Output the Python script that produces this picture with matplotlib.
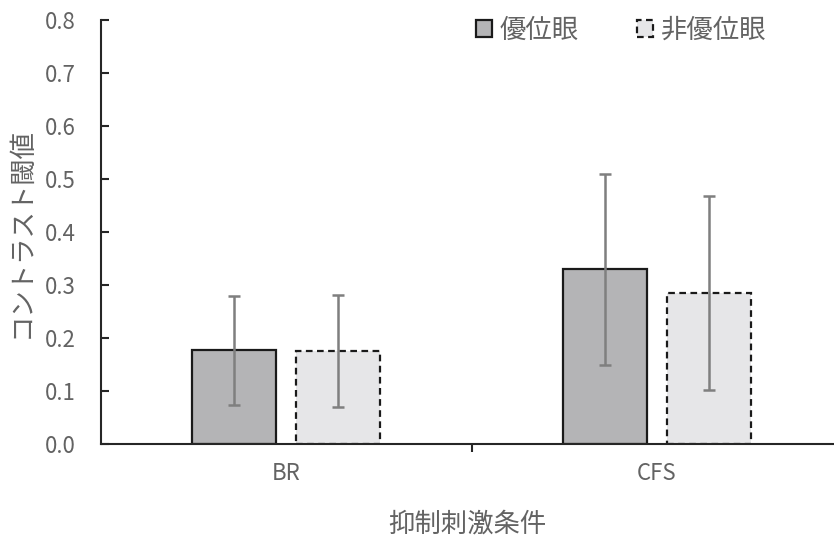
import matplotlib.pyplot as plt
import numpy as np

plt.rcParams['font.family'] = ['Noto Sans CJK JP', 'DejaVu Sans']

# data
conditions = ['BR', 'CFS']
series = ['優位眼', '非優位眼']
dominant = [0.177, 0.330]
dominant_err = [0.103, 0.180]
nondominant = [0.175, 0.285]
nondominant_err = [0.106, 0.183]

text_color = '#636363'
fig = plt.figure(figsize=(8.34, 5.37), dpi=100)
ax = fig.add_axes([101 / 834, 93 / 537, 733 / 834, 424 / 537])

x = np.arange(len(conditions))
w = 0.227
off = 0.1405
err_kw = dict(ecolor='#7f7f7f', elinewidth=1.8, capsize=4.5, capthick=1.8)

ax.bar(x - off, dominant, w, color='#b4b4b6', edgecolor='#1a1a1a', linewidth=1.6,
       yerr=dominant_err, error_kw=err_kw, label=series[0], zorder=2)
ax.bar(x + off, nondominant, w, color='#e6e6e8', edgecolor='#1a1a1a', linewidth=1.6,
       linestyle=(0, (3, 2)), yerr=nondominant_err, error_kw=err_kw,
       label=series[1], zorder=2)

ax.set_xlim(-0.5, 1.478)
ax.set_ylim(0, 0.8)
ax.set_yticks(np.arange(0, 0.81, 0.1))
ax.set_yticklabels([f'{v:.1f}' for v in np.arange(0, 0.81, 0.1)])
ax.set_xticks(x)
ax.set_xticklabels(conditions)
ax.set_xticks([0.5], minor=True)

for s in ['top', 'right']:
    ax.spines[s].set_visible(False)
for s in ['left', 'bottom']:
    ax.spines[s].set_color('#262626')
    ax.spines[s].set_linewidth(1.5)

ax.tick_params(axis='y', direction='in', length=6, width=1.5, color='#262626',
               labelsize=16, labelcolor=text_color, pad=18)
ax.tick_params(axis='x', which='major', length=0, labelsize=16,
               labelcolor=text_color, pad=13)
ax.tick_params(axis='x', which='minor', direction='out', length=6, width=1.5,
               color='#262626')

ax.set_ylabel('コントラスト閾値', fontsize=19, color=text_color)
ax.yaxis.set_label_coords(-0.09, 0.5)
ax.set_xlabel('抑制刺激条件', fontsize=19, color=text_color, labelpad=18)

leg = ax.legend(loc='center left', bbox_to_anchor=(0.5116, 0.976), ncol=2,
                frameon=False, fontsize=19, handlelength=0.6, handleheight=0.6,
                columnspacing=2.2, handletextpad=0.3, borderpad=0,
                borderaxespad=0)
for t in leg.get_texts():
    t.set_color(text_color)

fig.savefig('out.png', dpi=100)
